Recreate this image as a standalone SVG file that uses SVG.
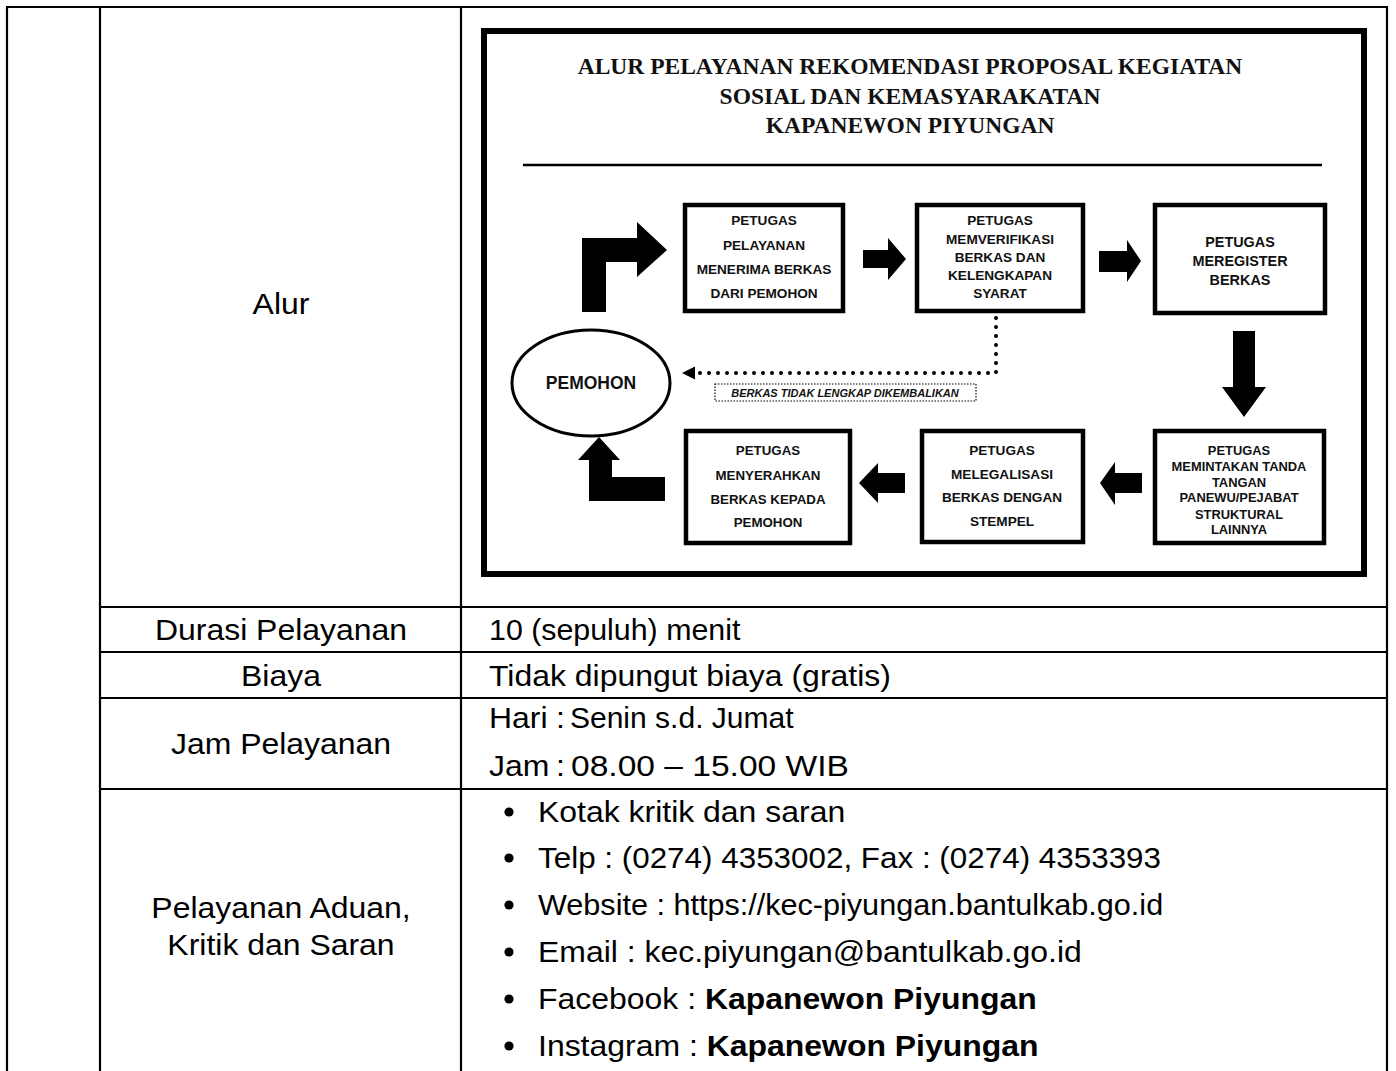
<svg xmlns="http://www.w3.org/2000/svg" width="1396" height="1071" viewBox="0 0 1396 1071">
  <style>
    .grid { stroke: #000; stroke-width: 2.2; fill: none; }
    .cell { font-family: "Liberation Sans", Arial, sans-serif; font-size: 30px; fill: #000; }
    .mid { text-anchor: middle; }
    .title { font-family: "Liberation Serif", "Times New Roman", serif; font-weight: bold; font-size: 23.5px; text-anchor: middle; fill: #111; }
    .box { fill: #fff; stroke: #000; stroke-width: 4.5; }
    .lbl { font-family: "Liberation Sans", Arial, sans-serif; font-weight: bold; font-size: 13.6px; text-anchor: middle; fill: #111; }
    .lbl-l { font-size: 14.4px; }
    .lbl-s { font-size: 12.9px; }
    .lbl-m { font-size: 13.3px; }
    .blk { fill: #000; }
    .dots { stroke: #000; stroke-width: 4; stroke-linecap: round; stroke-dasharray: 0 9; fill: none; }
  </style>

  <rect width="1396" height="1071" fill="#fff"/>

  <!-- table grid -->
  <g id="table">
    <line class="grid" x1="6" y1="7" x2="1388" y2="7"/>
    <line class="grid" x1="7" y1="6" x2="7" y2="1071"/>
    <line class="grid" x1="100" y1="6" x2="100" y2="1071"/>
    <line class="grid" x1="461" y1="6" x2="461" y2="1071"/>
    <line class="grid" x1="1387" y1="6" x2="1387" y2="1071"/>
    <line class="grid" x1="100" y1="607" x2="1388" y2="607"/>
    <line class="grid" x1="100" y1="652" x2="1388" y2="652"/>
    <line class="grid" x1="100" y1="698" x2="1388" y2="698"/>
    <line class="grid" x1="100" y1="789" x2="1388" y2="789"/>
  </g>

  <!-- table texts (slightly widened face) -->
  <g id="table-text">
    <text class="cell mid" transform="translate(281,314) scale(1.065,1)">Alur</text>
    <text class="cell mid" transform="translate(281,640) scale(1.065,1)">Durasi Pelayanan</text>
    <text class="cell mid" transform="translate(281,686) scale(1.065,1)">Biaya</text>
    <text class="cell mid" transform="translate(281,754) scale(1.065,1)">Jam Pelayanan</text>
    <text class="cell mid" transform="translate(281,918) scale(1.065,1)">Pelayanan Aduan,</text>
    <text class="cell mid" transform="translate(281,955) scale(1.065,1)">Kritik dan Saran</text>

    <text class="cell" transform="translate(489,640) scale(1.065,1)" textLength="236" lengthAdjust="spacingAndGlyphs">10 (sepuluh) menit</text>
    <text class="cell" transform="translate(489,686) scale(1.065,1)">Tidak dipungut biaya (gratis)</text>
    <text class="cell" transform="translate(489,728) scale(1.065,1)">Hari<tspan x="63">:</tspan><tspan x="76" textLength="210" lengthAdjust="spacingAndGlyphs">Senin s.d. Jumat</tspan></text>
    <text class="cell" transform="translate(489,776) scale(1.065,1)">Jam<tspan x="63">:</tspan><tspan x="77" textLength="261" lengthAdjust="spacingAndGlyphs">08.00 – 15.00 WIB</tspan></text>

    <g id="bullets">
      <circle cx="509" cy="812" r="4.6"/>
      <circle cx="509" cy="858" r="4.6"/>
      <circle cx="509" cy="905" r="4.6"/>
      <circle cx="509" cy="952" r="4.6"/>
      <circle cx="509" cy="999" r="4.6"/>
      <circle cx="509" cy="1046" r="4.6"/>
    </g>
    <text class="cell" transform="translate(538,822) scale(1.065,1)">Kotak kritik dan saran</text>
    <text class="cell" transform="translate(538,868) scale(1.065,1)" textLength="585" lengthAdjust="spacingAndGlyphs">Telp : (0274) 4353002, Fax : (0274) 4353393</text>
    <text class="cell" transform="translate(538,915) scale(1.065,1)" textLength="587" lengthAdjust="spacingAndGlyphs">Website : https://kec-piyungan.bantulkab.go.id</text>
    <text class="cell" transform="translate(538,962) scale(1.065,1)">Email : kec.piyungan@bantulkab.go.id</text>
    <text class="cell" transform="translate(538,1009) scale(1.065,1)">Facebook : <tspan font-weight="bold">Kapanewon Piyungan</tspan></text>
    <text class="cell" transform="translate(538,1056) scale(1.065,1)">Instagram : <tspan font-weight="bold">Kapanewon Piyungan</tspan></text>
  </g>

  <!-- flow chart frame and heading -->
  <g id="flow-frame">
    <rect x="484" y="31" width="880" height="543" fill="none" stroke="#000" stroke-width="6"/>
    <text class="title" x="910" y="74">ALUR PELAYANAN REKOMENDASI PROPOSAL KEGIATAN</text>
    <text class="title" x="910" y="104">SOSIAL DAN KEMASYARAKATAN</text>
    <text class="title" x="910" y="133">KAPANEWON PIYUNGAN</text>
    <line x1="523" y1="165" x2="1322" y2="165" stroke="#000" stroke-width="2.5"/>
  </g>

  <!-- process steps -->
  <g id="step-terima">
    <rect class="box" x="685" y="205" width="158" height="106"/>
    <text class="lbl" x="764" y="225">PETUGAS</text>
    <text class="lbl" x="764" y="250">PELAYANAN</text>
    <text class="lbl" x="764" y="274">MENERIMA BERKAS</text>
    <text class="lbl" x="764" y="298">DARI PEMOHON</text>
  </g>
  <g id="step-verifikasi">
    <rect class="box" x="917" y="205" width="166" height="106"/>
    <text class="lbl" x="1000" y="225">PETUGAS</text>
    <text class="lbl" x="1000" y="244">MEMVERIFIKASI</text>
    <text class="lbl" x="1000" y="262">BERKAS DAN</text>
    <text class="lbl" x="1000" y="280">KELENGKAPAN</text>
    <text class="lbl" x="1000" y="298">SYARAT</text>
  </g>
  <g id="step-register">
    <rect class="box" x="1155" y="205" width="170" height="108"/>
    <text class="lbl lbl-l" x="1240" y="246.5">PETUGAS</text>
    <text class="lbl lbl-l" x="1240" y="266">MEREGISTER</text>
    <text class="lbl lbl-l" x="1240" y="285">BERKAS</text>
  </g>
  <g id="step-tandatangan">
    <rect class="box" x="1155" y="431" width="169" height="112"/>
    <text class="lbl lbl-s" x="1239" y="455">PETUGAS</text>
    <text class="lbl lbl-s" x="1239" y="471">MEMINTAKAN TANDA</text>
    <text class="lbl lbl-s" x="1239" y="486.5">TANGAN</text>
    <text class="lbl lbl-s" x="1239" y="502">PANEWU/PEJABAT</text>
    <text class="lbl lbl-s" x="1239" y="518.5">STRUKTURAL</text>
    <text class="lbl lbl-s" x="1239" y="534">LAINNYA</text>
  </g>
  <g id="step-legalisasi">
    <rect class="box" x="922" y="431" width="161" height="111"/>
    <text class="lbl" x="1002" y="455">PETUGAS</text>
    <text class="lbl" x="1002" y="478.5">MELEGALISASI</text>
    <text class="lbl" x="1002" y="502">BERKAS DENGAN</text>
    <text class="lbl" x="1002" y="526">STEMPEL</text>
  </g>
  <g id="step-serahkan">
    <rect class="box" x="686" y="431" width="164" height="112"/>
    <text class="lbl lbl-m" x="768" y="455">PETUGAS</text>
    <text class="lbl lbl-m" x="768" y="480">MENYERAHKAN</text>
    <text class="lbl lbl-m" x="768" y="503.5">BERKAS KEPADA</text>
    <text class="lbl lbl-m" x="768" y="527">PEMOHON</text>
  </g>
  <g id="pemohon">
    <ellipse cx="591" cy="383" rx="79" ry="53" fill="#fff" stroke="#000" stroke-width="3"/>
    <text x="591" y="389" font-family="Liberation Sans, Arial, sans-serif" font-weight="bold" font-size="17.5" text-anchor="middle" fill="#111">PEMOHON</text>
  </g>

  <!-- connectors -->
  <g id="connectors">
    <!-- bent arrow from applicant up and into the first step -->
    <path class="blk" d="M582,312 V238 H637 V222 L667,250 L637,277 V262 H606 V312 Z"/>
    <!-- straight block arrows -->
    <path class="blk" d="M863,250 H888 V238 L906,259 L888,280 V268 H863 Z"/>
    <path class="blk" d="M1099,251 H1127 V240 L1141,261 L1127,282 V272 H1099 Z"/>
    <path class="blk" d="M1233,331 H1255 V387 H1266 L1244,417 L1222,387 H1233 Z"/>
    <path class="blk" d="M1142,473 V493 H1115 V505 L1100,483 L1115,462 V473 Z"/>
    <path class="blk" d="M905,473 V493 H878 V503 L859,483 L878,463 V473 Z"/>
    <!-- bent arrow back to the applicant -->
    <path class="blk" d="M665,477 V501 H589 V460 H578 L599,437 L620,460 H612 V477 Z"/>
    <!-- incomplete files are returned -->
    <path class="dots" d="M996,318 V373 H694"/>
    <path class="blk" d="M682,373 L695,366.5 L695,379.5 Z"/>
    <rect x="715" y="384" width="261" height="17" fill="none" stroke="#000" stroke-width="1.2" stroke-dasharray="1.5 1.5"/>
    <text x="845" y="396.5" font-family="Liberation Sans, Arial, sans-serif" font-weight="bold" font-style="italic" font-size="11" text-anchor="middle" fill="#111">BERKAS TIDAK LENGKAP DIKEMBALIKAN</text>
  </g>
</svg>
